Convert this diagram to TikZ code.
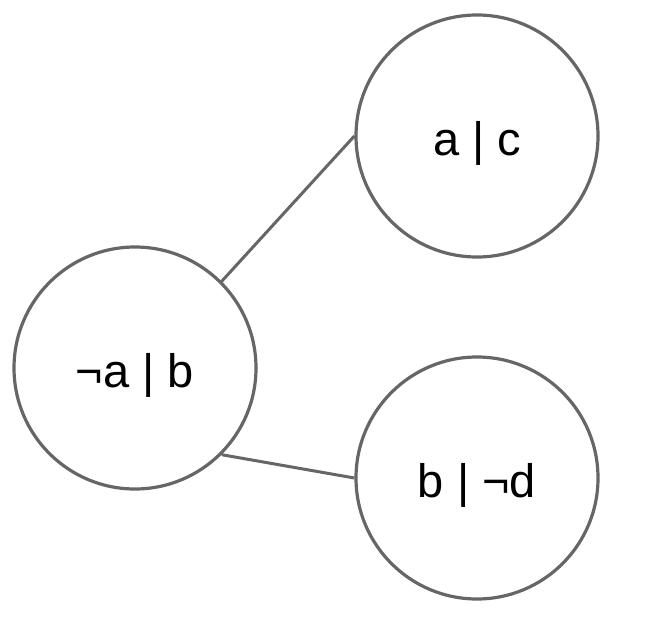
\documentclass[tikz,border=0pt]{standalone}
\usepackage{fontspec}
\setmainfont{Liberation Sans}
\definecolor{ringgray}{HTML}{666666}
\begin{document}
\begin{tikzpicture}[x=1pt,y=-1pt,
  clause/.style={circle,draw=ringgray,line width=3.2pt,fill=white,
    minimum size=242pt,inner sep=0pt,text height=38pt,text depth=0pt,
    font=\fontsize{47}{50}\selectfont},
  link/.style={draw=ringgray,line width=3pt}]
\useasboundingbox (0,0) rectangle (668,618);
\node[clause] (L) at (135,368) {¬a | b};
\node[clause] (T) at (477,136) {a | c};
\node[clause] (B) at (477,478) {b | ¬d};
\draw[link] (L.45) -- (T.180);
\draw[link] (L.-45) -- (B.180);
\end{tikzpicture}
\end{document}
